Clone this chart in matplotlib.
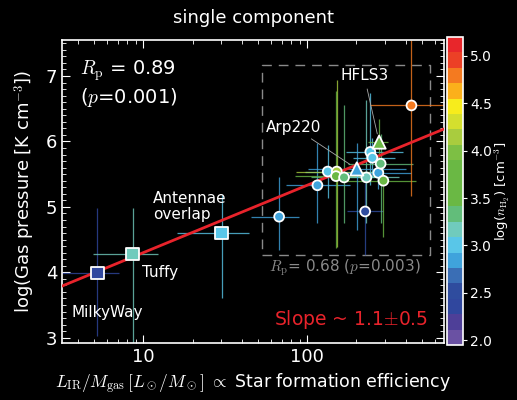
import numpy as np
import matplotlib
matplotlib.use("Agg")
import matplotlib.pyplot as plt
from matplotlib.colors import ListedColormap, Normalize
from matplotlib.ticker import FixedLocator, MultipleLocator, LogLocator, NullFormatter

plt.rcParams['font.family'] = ['DejaVu Sans']
plt.rcParams['mathtext.fontset'] = 'cm'

# local objects (squares)
sq_names = ["MilkyWay", "Tuffy", "Antennae\noverlap"]
sq_x = [5.26, 8.65, 30.2]
sq_y = [3.99, 4.28, 4.60]
sq_n = [2.4, 3.17, 3.0]
sq_xlo = [0.30, 0.246, 0.275]
sq_xhi = [0.13, 0.154, 0.166]
sq_ylo = [0.97, 1.45, 0.99]
sq_yhi = [0.99, 0.70, 0.58]

# high-z / ULIRG sample (circles)
ci_x = [67.5, 115.6, 133.6, 151.7, 150, 168, 226, 230, 243, 250, 272, 281, 292, 433]
ci_y = [4.85, 5.33, 5.54, 5.54, 5.47, 5.45, 4.93, 5.45, 5.84, 5.75, 5.52, 5.66, 5.40, 6.55]
ci_n = [2.85, 2.85, 3.0, 4.15, 3.7, 3.35, 2.5, 3.2, 3.0, 3.0, 2.9, 3.35, 3.5, 4.8]
ci_xlo = [0.17, 0.19, 0.14, 0.25, 0.25, 0.2, 0.11, 0.2, 0.15, 0.12, 0.2, 0.2, 0.245, 0.25]
ci_xhi = [0.12, 0.2, 0.3, 0.25, 0.25, 0.2, 0.11, 0.2, 0.2, 0.14, 0.2, 0.2, 0.2, 0.3]
ci_ylo = [0.51, 0.57, 0.4, 1.15, 1.1, 0.7, 0.66, 0.69, 0.5, 0.3, 0.25, 0.9, 0.86, 1.39]
ci_yhi = [0.61, 0.65, 0.4, 1.4, 1.3, 1.1, 0.44, 1.18, 0.9, 0.3, 0.25, 0.45, 0.32, 1.0]

# named galaxies (triangles)
tr_names = ["Arp220", "HFLS3"]
tr_x = [201, 275]
tr_y = [5.58, 5.99]
tr_n = [2.85, 3.8]
tr_xlo = [0.3, 0.065]
tr_xhi = [0.3, 0.057]
tr_ylo = [0.93, 0.3]
tr_yhi = [0.39, 0.35]

fit_slope = 1.03
fit_intercept = 3.27

cb_colors = ["#6a51a3", "#4e3f98", "#30479e", "#2f4c9e", "#3a6eb5",
             "#3fa3dc", "#59c6e8", "#70cbbd", "#62bd7a", "#6ab844",
             "#6ab844", "#6ab844", "#7dbf44", "#a9cc3e", "#d4df2e",
             "#f7ec1c", "#fbb01b", "#f47a20", "#ec4026", "#e8262b"]
cmap = ListedColormap(cb_colors)
norm = Normalize(vmin=1.95, vmax=5.2)

fig = plt.figure(figsize=(5.17, 4.0), dpi=100, facecolor="black")
ax = fig.add_axes([0.12, 0.1425, 0.739, 0.7575], facecolor="black")
cax = fig.add_axes([0.8646, 0.1375, 0.031, 0.77])


def draw(xs, ys, ns, xlo, xhi, ylo, yhi, marker, ms):
    for x, y, n, a, b, c, d in zip(xs, ys, ns, xlo, xhi, ylo, yhi):
        col = cmap(norm(n))
        ax.errorbar([x], [y],
                    xerr=[[x - x / 10**a], [x * 10**b - x]],
                    yerr=[[c], [d]], fmt="none", ecolor=col, elinewidth=0.9,
                    alpha=0.8, capsize=0, zorder=2)
    ax.scatter(xs, ys, c=ns, cmap=cmap, norm=norm, marker=marker, s=ms,
               edgecolors="white", linewidths=1.3, zorder=4)


xx = np.logspace(np.log10(3.2), np.log10(690), 50)
ax.plot(xx, fit_intercept + fit_slope * np.log10(xx), color="#e8232b", lw=2, zorder=3)

draw(sq_x, sq_y, sq_n, sq_xlo, sq_xhi, sq_ylo, sq_yhi, "s", 85)
draw(ci_x, ci_y, ci_n, ci_xlo, ci_xhi, ci_ylo, ci_yhi, "o", 50)
draw(tr_x, tr_y, tr_n, tr_xlo, tr_xhi, tr_ylo, tr_yhi, "^", 90)

# dashed box around the high-z sample
bx = [53, 563, 563, 53, 53]
by = [4.27, 4.27, 7.17, 7.17, 4.27]
ax.plot(bx, by, color="#8a8a8a", lw=1, ls=(0, (7, 5)), zorder=1)

ax.set_xscale("log")
ax.set_xlim(3.2, 685)
ax.set_ylim(2.92, 7.55)

for s in ax.spines.values():
    s.set_color("white")
    s.set_linewidth(1.2)
ax.tick_params(which="both", direction="in", colors="white", top=True, right=True,
               labelsize=13)
ax.tick_params(which="major", length=6)
ax.tick_params(which="minor", length=3)
ax.yaxis.set_major_locator(MultipleLocator(1))
ax.yaxis.set_minor_locator(MultipleLocator(0.1))
ax.xaxis.set_major_locator(FixedLocator([10, 100]))
ax.xaxis.set_minor_locator(LogLocator(base=10, subs=np.arange(2, 10)))
ax.xaxis.set_minor_formatter(NullFormatter())
ax.set_xticklabels(["10", "100"])
for lab in ax.get_xticklabels() + ax.get_yticklabels():
    lab.set_color("white")

ax.set_xlabel(r"$L_{\rm IR}/M_{\rm gas}\,[L_\odot/M_\odot]$ $\propto$ Star formation efficiency",
              color="white", fontsize=12.5, labelpad=4)
ax.set_ylabel(r"log(Gas pressure [K cm$^{-3}$])", color="white", fontsize=13, labelpad=6)
fig.text(0.49, 0.955, "single component", color="white", fontsize=13, ha="center", va="center")

ax.text(0.047, 0.90, r"$R_{\rm p}$ = 0.89", transform=ax.transAxes, color="white",
        fontsize=14, va="center")
ax.text(0.047, 0.81, r"($p$=0.001)", transform=ax.transAxes, color="white",
        fontsize=14, va="center")
ax.text(0.74, 0.247, r"$R_{\rm p}$= 0.68 ($p$=0.003)", transform=ax.transAxes,
        color="#8a8a8a", fontsize=11, ha="center", va="center")
ax.text(0.958, 0.076, r"Slope ~ 1.1$\pm$0.5", transform=ax.transAxes, color="#e8232b",
        fontsize=13.5, ha="right", va="center")

# labels for local objects
ax.text(3.64, 3.38, sq_names[0], color="white", fontsize=11, va="center")
ax.text(9.86, 4.0, sq_names[1], color="white", fontsize=11, va="center")
ax.text(11.5, 5.0, sq_names[2], color="white", fontsize=11, va="center", linespacing=1.1)

ax.annotate(tr_names[0], xy=(tr_x[0], tr_y[0]), xytext=(56, 6.22), color="white",
            fontsize=11, va="center",
            arrowprops=dict(arrowstyle="-", color="#aaaaaa", lw=0.6, shrinkA=2, shrinkB=6))
ax.annotate(tr_names[1], xy=(tr_x[1], tr_y[1]), xytext=(159, 7.0), color="white",
            fontsize=11, va="center",
            arrowprops=dict(arrowstyle="-", color="#aaaaaa", lw=0.6, shrinkA=2, shrinkB=6))

cb = fig.colorbar(plt.cm.ScalarMappable(norm=norm, cmap=cmap), cax=cax)
cb.set_ticks([2.0, 2.5, 3.0, 3.5, 4.0, 4.5, 5.0])
cb.ax.yaxis.set_ticklabels(["2.0", "2.5", "3.0", "3.5", "4.0", "4.5", "5.0"])
cb.ax.tick_params(colors="white", labelsize=10, length=3, direction="out", pad=2)
cb.outline.set_edgecolor("white")
cb.outline.set_linewidth(1.2)
cb.set_label(r"log($n_{\rm H_2}$) [cm$^{-3}$]", color="white", fontsize=9.5, labelpad=1)

fig.savefig("out.png", dpi=100, facecolor="black")
